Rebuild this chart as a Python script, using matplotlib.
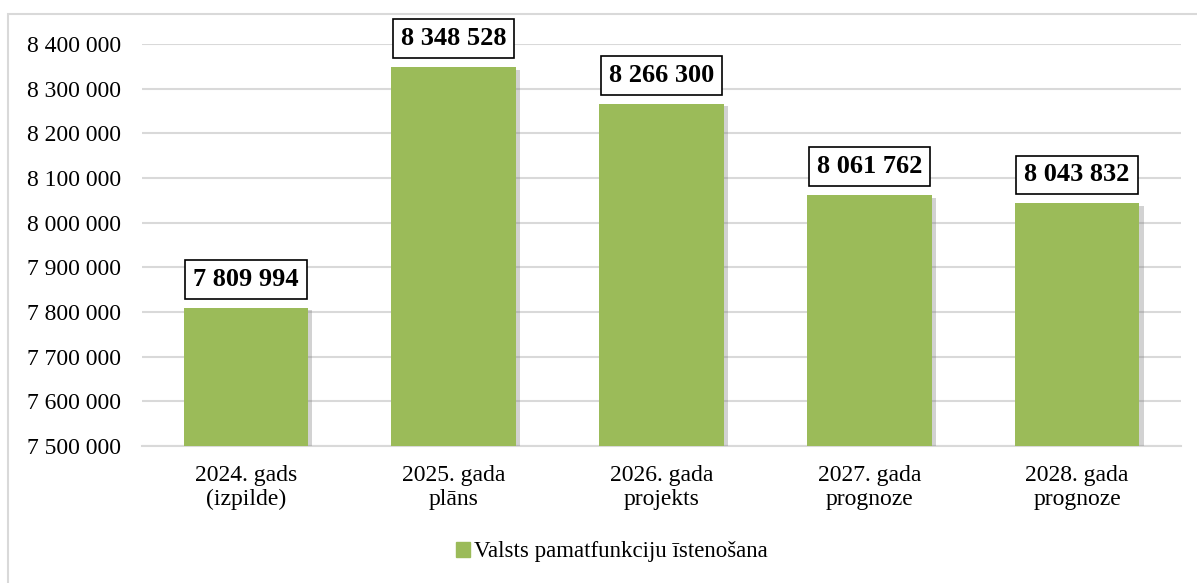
import matplotlib
matplotlib.use("Agg")
import matplotlib.pyplot as plt
import matplotlib.patheffects as pe
from matplotlib.patches import Rectangle, Patch
from matplotlib.ticker import FuncFormatter

categories = ["2024. gads\n(izpilde)", "2025. gada\nplāns", "2026. gada\nprojekts",
              "2027. gada\nprognoze", "2028. gada\nprognoze"]
values = [7809994, 8348528, 8266300, 8061762, 8043832]
series_name = "Valsts pamatfunkciju īstenošana"

GREEN = "#9bbb59"
GRID = "#d9d9d9"
plt.rcParams["font.family"] = ["Liberation Serif", "DejaVu Serif"]

W, H = 1197, 583
fig = plt.figure(figsize=(W / 100, H / 100), dpi=100)
fig.patches.append(Rectangle((8 / W, -0.1), 1.2, 1 - 14 / H + 0.1,
                             transform=fig.transFigure, fill=False,
                             edgecolor="#d9d9d9", lw=1.5))
ax = fig.add_axes([142 / W, 1 - 446 / H, (1181 - 142) / W, (446 - 44) / H])


def spaced(v, _=None):
    return f"{int(v):,}".replace(",", " ")


x = list(range(len(values)))
ax.bar(x, [v - 7500000 for v in values], bottom=7500000, width=0.6,
       color=GREEN, zorder=3,
       path_effects=[pe.SimplePatchShadow(offset=(3, -2), shadow_rgbFace="#7f7f7f", alpha=0.35),
                     pe.Normal()])
ax.set_xlim(-0.5, len(values) - 0.5)
ax.set_ylim(7500000, 8400000)
ax.set_yticks(range(7500000, 8400001, 100000))
ax.yaxis.set_major_formatter(FuncFormatter(spaced))
ax.grid(axis="y", color=GRID, lw=1.5, zorder=0)
ax.set_xticks(x)
ax.set_xticklabels(categories, fontsize=17, linespacing=1.15)
ax.tick_params(axis="y", labelsize=17, length=0, pad=15)
ax.tick_params(axis="x", length=0, pad=14)
for sp in ("top", "right", "left"):
    ax.spines[sp].set_visible(False)
ax.spines["bottom"].set_color(GRID)
ax.spines["bottom"].set_linewidth(1.5)

for xi, v in zip(x, values):
    ax.annotate(spaced(v), (xi, v), xytext=(0, 12), textcoords="offset points",
                ha="center", va="bottom", fontsize=19, fontweight="bold",
                bbox=dict(boxstyle="square,pad=0.3", fc="white", ec="black", lw=1.2),
                zorder=5)

fig.legend(handles=[Patch(color=GREEN)], labels=[series_name], loc="center",
           bbox_to_anchor=(612 / W, 1 - 552 / H), frameon=False, fontsize=16.5,
           handlelength=0.6, handleheight=0.6, handletextpad=0.2)

fig.savefig("out.png", dpi=100)
